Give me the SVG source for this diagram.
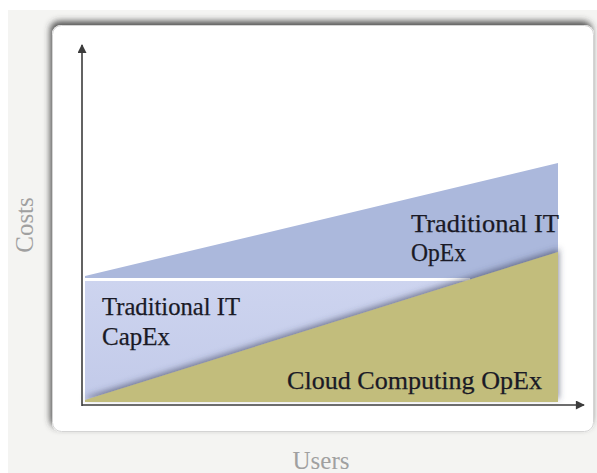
<svg xmlns="http://www.w3.org/2000/svg" width="597" height="473" viewBox="0 0 597 473">
  <style>
    .lbl { font-family: "Liberation Serif", "Times New Roman", serif; font-size: 25px; fill: #1a1a26; stroke: #1a1a26; stroke-width: 0.25; }
    .axislbl { font-family: "Liberation Serif", "Times New Roman", serif; font-size: 25px; fill: #a0a0a0; }
    .axis { stroke: #3c3c3c; stroke-width: 1.6; fill: none; }
  </style>
  <defs>
    <marker id="arrow" viewBox="0 0 10 10" refX="9" refY="5" markerWidth="10" markerHeight="9" markerUnits="userSpaceOnUse" orient="auto">
      <path d="M0,0 L10,5 L0,10 z" fill="#3c3c3c"/>
    </marker>
    <filter id="panelShadow" x="-5%" y="-8%" width="110%" height="116%">
      <feDropShadow dx="-2" dy="-4" stdDeviation="3" flood-color="#3a3a3a" flood-opacity="0.85"/>
    </filter>
    <filter id="oliveShadow" x="-10%" y="-20%" width="120%" height="140%">
      <feDropShadow dx="1" dy="-3" stdDeviation="3" flood-color="#3a3f5a" flood-opacity="0.6"/>
    </filter>
    <linearGradient id="lightBlue" x1="0" y1="0" x2="0" y2="1">
      <stop offset="0" stop-color="#cdd4ef"/>
      <stop offset="1" stop-color="#c2cae9"/>
    </linearGradient>
  </defs>

  <rect x="8" y="10" width="589" height="463" fill="#f4f4f2"/>

  <g id="panel">
    <rect x="52" y="25" width="542" height="407" rx="9" ry="9" fill="#ffffff" filter="url(#panelShadow)"/>
    <rect x="52.5" y="25.5" width="541" height="406" rx="9" ry="9" fill="none" stroke="#d4d4d4" stroke-width="1"/>
  </g>

  <g id="opex-traditional">
    <polygon points="85,276 558,163 558,262 85,402" fill="#abb8dc"/>
  </g>

  <g id="capex-traditional">
    <polygon points="85,281 472,281 85,402" fill="url(#lightBlue)"/>
    <line x1="85" y1="279.5" x2="470" y2="279.5" stroke="#ffffff" stroke-width="3"/>
  </g>

  <g id="cloud-opex">
    <polygon points="85,400 558,252 558,402 85,402" fill="#c2bd7c" filter="url(#oliveShadow)"/>
  </g>

  <g id="connectors">
    <line class="axis" x1="82" y1="406" x2="82" y2="45" marker-end="url(#arrow)"/>
    <line class="axis" x1="82" y1="405" x2="584" y2="405" marker-end="url(#arrow)"/>
  </g>

  <g id="labels">
    <text class="lbl" x="411" y="232" textLength="148" lengthAdjust="spacingAndGlyphs">Traditional IT</text>
    <text class="lbl" x="411" y="261" textLength="55" lengthAdjust="spacingAndGlyphs">OpEx</text>
    <text class="lbl" x="102" y="315" textLength="138" lengthAdjust="spacingAndGlyphs">Traditional IT</text>
    <text class="lbl" x="102" y="345" textLength="68" lengthAdjust="spacingAndGlyphs">CapEx</text>
    <text class="lbl" x="287" y="389" textLength="255" lengthAdjust="spacingAndGlyphs">Cloud Computing OpEx</text>
  </g>

  <g id="axis-labels">
    <text class="axislbl" x="321" y="469" text-anchor="middle">Users</text>
    <text class="axislbl" transform="translate(33,225) rotate(-90)" text-anchor="middle">Costs</text>
  </g>
</svg>
